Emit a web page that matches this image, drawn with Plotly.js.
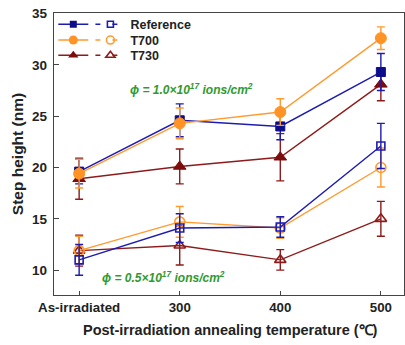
<!DOCTYPE html>
<html>
<head>
<meta charset="utf-8">
<script src="https://cdn.plot.ly/plotly-3.0.1.min.js"></script>
<style>html,body{margin:0;padding:0;background:#fff}#chart{width:405px;height:345px}</style>
</head>
<body>
<div id="chart"></div>
<script>
const categories = ["As-irradiated", "300", "400", "500"];
const seriesNames = ["Reference", "T700", "T730"];

// Fluence 1.0e17 (filled markers)
const refHigh = [19.6, 24.6, 24.0, 29.3];
const refHighErr = [1.2, 1.6, 1.3, 1.8];
const t700High = [19.4, 24.3, 25.4, 32.6];
const t700HighErr = [1.4, 1.5, 1.3, 1.1];
const t730High = [18.9, 20.1, 21.0, 28.1];
const t730HighErr = [2.0, 1.7, 2.3, 1.6];

// Fluence 0.5e17 (open markers)
const refLow = [11.0, 14.1, 14.2, 22.1];
const refLowErr = [1.5, 1.4, 1.0, 2.2];
const t700Low = [11.9, 14.7, 14.1, 20.0];
const t700LowErr = [1.4, 1.5, 1.0, 1.9];
const t730Low = [11.9, 12.4, 11.0, 15.0];
const t730LowErr = [1.5, 1.9, 1.0, 1.7];

const colors = ["#1c1cb0", "#ff9a2e", "#8e1b1b"];
const markerFill = ["#0d0d8a", "#ff9326", "#7d0c0c"];
const symbols = ["square", "circle", "triangle-up"];
const sizes = [9, 11, 11];

const xIdx = categories.map((c, i) => i);

function series(y, err, k, open) {
  return {
    x: xIdx, y: y, type: "scatter", mode: "lines+markers",
    showlegend: false,
    line: {color: colors[k], width: 1.4},
    marker: {
      symbol: open ? symbols[k] + "-open" : symbols[k],
      size: open ? sizes[k] - 1 : sizes[k],
      color: open ? colors[k] : markerFill[k],
      line: {color: open ? colors[k] : markerFill[k], width: open ? 1.6 : 1}
    },
    error_y: {type: "data", array: err, visible: true, color: colors[k], thickness: 1.4, width: 4}
  };
}

const traces = [
  series(t730Low, t730LowErr, 2, true),
  series(t700Low, t700LowErr, 1, true),
  series(refLow, refLowErr, 0, true),
  series(t730High, t730HighErr, 2, false),
  series(refHigh, refHighErr, 0, false),
  series(t700High, t700HighErr, 1, false)
];

const fontFam = "Liberation Sans, Arial, sans-serif";
const legendRowsY = [1.012, 0.956, 0.902];
const legendFont = {family: fontFam, size: 12.5, weight: "bold", color: "#222"};
const legends = {};

// legend entries (dummy traces), one legend per entry to control spacing
seriesNames.forEach((name, k) => {
  const idA = "legend" + (k === 0 ? "" : (k + 1));
  const idB = "legend" + (k + 4);
  traces.push({
    x: [null], y: [null], type: "scatter", mode: "lines+markers", name: " ",
    legend: idA, showlegend: true,
    line: {color: colors[k], width: 1.4},
    marker: {symbol: symbols[k], size: sizes[k] - 2, color: markerFill[k]}
  });
  traces.push({
    x: [null], y: [null], type: "scatter", mode: "lines+markers", name: name,
    legend: idB, showlegend: true,
    line: {color: colors[k], width: 1.4, dash: "5px,12px"},
    marker: {symbol: symbols[k] + "-open", size: sizes[k] - 3, color: colors[k], line: {width: 1.6}}
  });
  legends[idA] = {x: -0.002, y: legendRowsY[k], xanchor: "left", yanchor: "top",
    bgcolor: "rgba(0,0,0,0)", borderwidth: 0, font: legendFont, itemwidth: 30};
  legends[idB] = {x: 0.104, y: legendRowsY[k], xanchor: "left", yanchor: "top",
    bgcolor: "rgba(0,0,0,0)", borderwidth: 0, font: legendFont, itemwidth: 30};
});

const xTitle = "Post-irradiation annealing temperature (℃)";

const layout = Object.assign({
  width: 405, height: 345,
  margin: {l: 54, r: 1, t: 13, b: 50},
  paper_bgcolor: "#fff", plot_bgcolor: "#fff",
  font: {family: fontFam, color: "#222", size: 13},
  showlegend: true,
  xaxis: {
    range: [-0.25, 3.23],
    tickvals: xIdx, ticktext: categories,
    ticks: "inside", ticklen: 4, tickwidth: 1, tickcolor: "#444",
    showline: true, linecolor: "#444", linewidth: 1.2, mirror: true,
    showgrid: false, zeroline: false,
    tickfont: {family: fontFam, size: 13.3, weight: "bold", color: "#222"}
  },
  yaxis: {
    range: [7.58, 35.05],
    tickvals: [10, 15, 20, 25, 30, 35],
    ticks: "inside", ticklen: 5, tickwidth: 1, tickcolor: "#444",
    showline: true, linecolor: "#444", linewidth: 1.2, mirror: true,
    showgrid: false, zeroline: false,
    tickfont: {family: fontFam, size: 13.5, weight: "bold", color: "#222"},
    ticklabelstandoff: 3,
    title: {text: "Step height (nm)", standoff: 4,
            font: {family: fontFam, size: 15.5, weight: "bold", color: "#222"}}
  },
  annotations: [
    {xref: "paper", yref: "y", x: 0.21, y: 27.65, xanchor: "left", yanchor: "middle", showarrow: false,
     text: "<i>ϕ = 1.0×10<sup>17</sup> ions/cm<sup>2</sup></i>",
     font: {family: fontFam, size: 12, weight: "bold", color: "#2f9a2f"}},
    {xref: "paper", yref: "y", x: 0.13, y: 9.35, xanchor: "left", yanchor: "middle", showarrow: false,
     text: "<i>ϕ = 0.5×10<sup>17</sup> ions/cm<sup>2</sup></i>",
     font: {family: fontFam, size: 12, weight: "bold", color: "#2f9a2f"}},
    {xref: "paper", yref: "paper", x: 0.503, y: -0.124, xanchor: "center", yanchor: "middle", showarrow: false,
     text: xTitle,
     font: {family: fontFam, size: 14.5, weight: "bold", color: "#222"}}
  ]
}, legends);

Plotly.newPlot("chart", traces, layout, {displayModeBar: false, staticPlot: true});
</script>
</body>
</html>
